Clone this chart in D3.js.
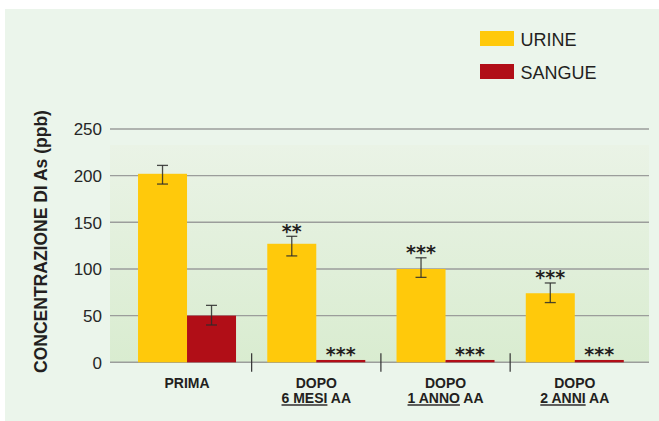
<!DOCTYPE html>
<html>
<head>
<meta charset="utf-8">
<script src="https://cdn.jsdelivr.net/npm/d3@7"></script>
<style>
  body { margin: 0; background: #fff; }
  svg { display: block; font-family: Arial, "Liberation Sans", sans-serif; }
</style>
</head>
<body>
<div class="chart"></div>
<script>
// data
const groups = ["PRIMA", "6 MESI", "1 ANNO", "2 ANNI"];
const series = ["URINE", "SANGUE"];
const urine = [202, 127, 100, 74];
const urineLo = [191, 114, 91, 64];
const urineHi = [211, 135, 112, 85];
const sangue = [50, 2.5, 2.5, 2.5];
const sangueLo = [40, null, null, null];
const sangueHi = [61, null, null, null];
const urineStars = ["", "**", "***", "***"];
const sangueStars = ["", "***", "***", "***"];
const yTicks = [0, 50, 100, 150, 200, 250];
const colors = ["#ffc90b", "#b10e17"];

const W = 659, H = 421;

const svg = d3.select(".chart").append("svg")
  .attr("width", W)
  .attr("height", H);

// panel background
svg.append("rect")
  .attr("x", 5).attr("y", 9)
  .attr("width", W - 5).attr("height", H - 9)
  .attr("fill", "#ebf5eb");

const defs = svg.append("defs");
const grad = defs.append("linearGradient")
  .attr("id", "plotbg")
  .attr("x1", 0).attr("y1", 0).attr("x2", 0).attr("y2", 1);
grad.append("stop").attr("offset", "0%").attr("stop-color", "#eaf3e6");
grad.append("stop").attr("offset", "100%").attr("stop-color", "#d9ecd0");

const yScale = d3.scaleLinear()
  .domain([0, 250])
  .range([362.3, 129]);

const xScale = d3.scaleBand()
  .domain(groups)
  .range([125.1, 636.7])
  .paddingInner(0.2418)
  .paddingOuter(0.1);

const xSub = d3.scaleBand()
  .domain(series)
  .range([0, xScale.bandwidth()]);

// plot background
svg.append("rect")
  .attr("x", 110)
  .attr("y", 145)
  .attr("width", 539)
  .attr("height", yScale(0) - 145)
  .attr("fill", "url(#plotbg)");

// gridlines
svg.append("g")
  .selectAll("line")
  .data(yTicks)
  .enter()
  .append("line")
  .attr("x1", 110)
  .attr("x2", 649)
  .attr("y1", d => yScale(d))
  .attr("y2", d => yScale(d))
  .attr("stroke", "#9b9d9b")
  .attr("stroke-width", 1.4);

// y axis labels
const yAxis = d3.axisLeft(yScale)
  .tickValues(yTicks)
  .tickSize(0)
  .tickPadding(0);

svg.append("g")
  .attr("class", "y-axis")
  .attr("transform", "translate(102,0)")
  .call(yAxis)
  .call(g => g.select(".domain").remove())
  .selectAll("text")
  .attr("font-size", 17)
  .attr("font-family", "Arial, 'Liberation Sans', sans-serif")
  .attr("fill", "#262626")
  .attr("dy", "0.34em");

// y title
svg.append("text")
  .attr("transform", "translate(47,241.5) rotate(-90)")
  .attr("text-anchor", "middle")
  .attr("font-size", 17.5)
  .attr("font-weight", "bold")
  .attr("fill", "#231f20")
  .text("CONCENTRAZIONE DI As (ppb)");

// bars
const rows = groups.map((g, i) => ({
  group: g,
  vals: [
    { s: "URINE", v: urine[i], lo: urineLo[i], hi: urineHi[i], star: urineStars[i] },
    { s: "SANGUE", v: sangue[i], lo: sangueLo[i], hi: sangueHi[i], star: sangueStars[i] }
  ]
}));

const gGroup = svg.append("g")
  .selectAll("g")
  .data(rows)
  .enter()
  .append("g")
  .attr("transform", d => `translate(${xScale(d.group)},0)`);

gGroup.selectAll("rect")
  .data(d => d.vals)
  .enter()
  .append("rect")
  .attr("x", d => xSub(d.s))
  .attr("y", d => yScale(d.v))
  .attr("width", xSub.bandwidth())
  .attr("height", d => yScale(0) - yScale(d.v))
  .attr("fill", (d, i) => colors[i]);

// error bars
const errs = gGroup.selectAll("g.err")
  .data(d => d.vals.filter(v => v.lo != null))
  .enter()
  .append("g")
  .attr("class", "err")
  .attr("stroke", "#2b2b2b")
  .attr("stroke-opacity", 0.85)
  .attr("stroke-width", 1.3);

errs.append("line")
  .attr("x1", d => xSub(d.s) + xSub.bandwidth() / 2)
  .attr("x2", d => xSub(d.s) + xSub.bandwidth() / 2)
  .attr("y1", d => yScale(d.lo))
  .attr("y2", d => yScale(d.hi));

errs.selectAll("line.cap")
  .data(d => [d.lo, d.hi].map(v => ({ s: d.s, v: v })))
  .enter()
  .append("line")
  .attr("class", "cap")
  .attr("x1", d => xSub(d.s) + xSub.bandwidth() / 2 - 5.5)
  .attr("x2", d => xSub(d.s) + xSub.bandwidth() / 2 + 5.5)
  .attr("y1", d => yScale(d.v))
  .attr("y2", d => yScale(d.v));

// significance stars
gGroup.selectAll("text.star")
  .data(d => d.vals.filter(v => v.star))
  .enter()
  .append("text")
  .attr("class", "star")
  .attr("x", d => xSub(d.s) + xSub.bandwidth() / 2)
  .attr("y", d => yScale(d.hi != null ? d.hi : d.v) + 1.5)
  .attr("text-anchor", "middle")
  .attr("font-family", "'DejaVu Sans', sans-serif")
  .attr("font-size", 19)
  .attr("font-weight", "bold")
  .attr("fill", "#231f20")
  .text(d => d.star);

// separator ticks between groups
const seps = groups.slice(1).map(g => xScale(g) - xScale.step() * xScale.paddingInner() / 2);
svg.append("g")
  .selectAll("line")
  .data(seps)
  .enter()
  .append("line")
  .attr("x1", d => d)
  .attr("x2", d => d)
  .attr("y1", 353.3)
  .attr("y2", 371.7)
  .attr("stroke", "#333")
  .attr("stroke-width", 1.2);

// category labels
const labels = svg.append("g")
  .attr("font-size", 14)
  .attr("font-weight", "bold")
  .attr("fill", "#231f20")
  .attr("text-anchor", "middle");

groups.forEach((g, i) => {
  const cx = xScale(g) + xScale.bandwidth() / 2;
  if (i === 0) {
    labels.append("text").attr("x", cx).attr("y", 387.7).text(g);
  } else {
    labels.append("text").attr("x", cx).attr("y", 387.7).text("DOPO");
    const t = labels.append("text").attr("x", cx).attr("y", 403.3);
    t.append("tspan").attr("text-decoration", "underline").text(g);
    t.append("tspan").text(" AA");
  }
});

// legend
const legend = svg.append("g")
  .selectAll("g")
  .data(series)
  .enter()
  .append("g")
  .attr("transform", (d, i) => `translate(480,${31 + i * 33})`);

legend.append("rect")
  .attr("width", 34)
  .attr("height", 15)
  .attr("fill", (d, i) => colors[i]);

legend.append("text")
  .attr("x", 40.5)
  .attr("y", 14.5)
  .attr("font-size", 18)
  .attr("fill", "#231f20")
  .text(d => d);
</script>
</body>
</html>
